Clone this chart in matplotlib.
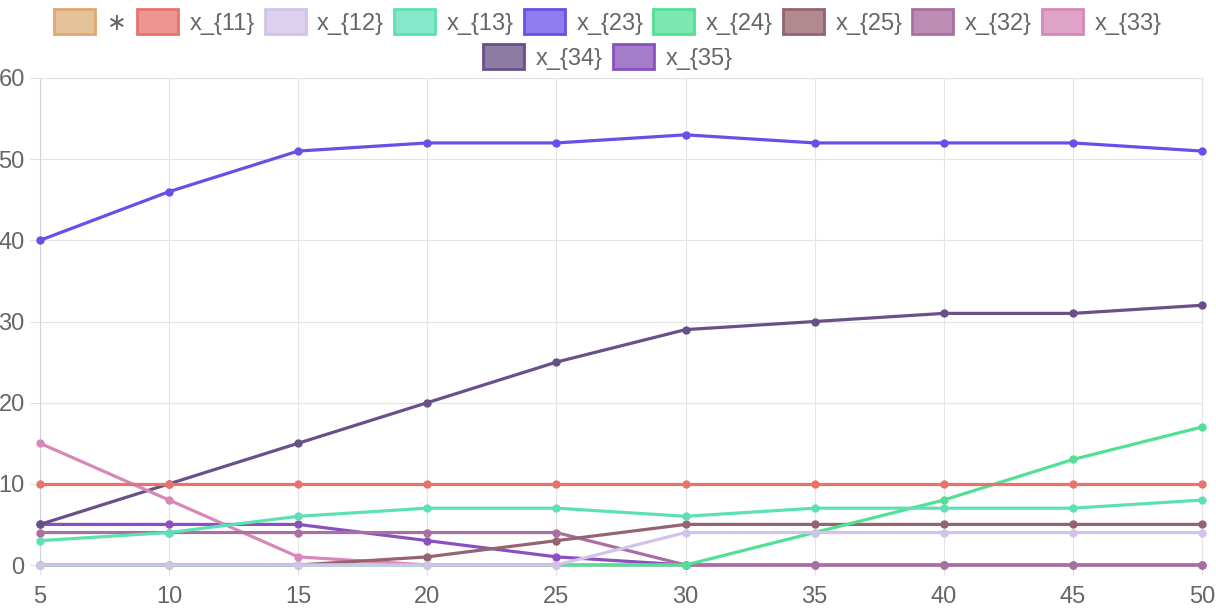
import matplotlib.pyplot as plt
from matplotlib.patches import Patch

plt.rcParams['font.family'] = ['Liberation Sans', 'DejaVu Sans']

x = [5, 10, 15, 20, 25, 30, 35, 40, 45, 50]

labels = ["\u2217", "x_{11}", "x_{12}", "x_{13}", "x_{23}", "x_{24}",
          "x_{25}", "x_{32}", "x_{33}", "x_{34}", "x_{35}"]
borders = ["#e0a870", "#e8736c", "#d2c4e8", "#5ee0b5", "#6a4ee8", "#52e095",
           "#946470", "#a870a0", "#d888b8", "#6a5088", "#8a50c0"]
fills = ["#e4c29a", "#ee9593", "#dcd0ee", "#86e8c8", "#8f7cee", "#7ce8b0",
         "#b08a90", "#bc8cb4", "#e0a4c8", "#8c7ca4", "#a47cc8"]

x_star = []
x_11 = [10, 10, 10, 10, 10, 10, 10, 10, 10, 10]
x_12 = [0, 0, 0, 0, 0, 4, 4, 4, 4, 4]
x_13 = [3, 4, 6, 7, 7, 6, 7, 7, 7, 8]
x_23 = [40, 46, 51, 52, 52, 53, 52, 52, 52, 51]
x_24 = [0, 0, 0, 0, 0, 0, 4, 8, 13, 17]
x_25 = [0, 0, 0, 1, 3, 5, 5, 5, 5, 5]
x_32 = [4, 4, 4, 4, 4, 0, 0, 0, 0, 0]
x_33 = [15, 8, 1, 0, 0, 0, 0, 0, 0, 0]
x_34 = [5, 10, 15, 20, 25, 29, 30, 31, 31, 32]
x_35 = [5, 5, 5, 3, 1, 0, 0, 0, 0, 0]

series = [x_star, x_11, x_12, x_13, x_23, x_24, x_25, x_32, x_33, x_34, x_35]

fig = plt.figure(figsize=(12.16, 6.08), dpi=100)
ax = fig.add_axes([40 / 1216, 43 / 608, 1162 / 1216, 487 / 608])

n = len(series)
for i, ys in enumerate(series):
    if not ys:
        continue
    ax.plot(x, ys, color=borders[i], lw=2.3, marker='o', ms=5,
            zorder=20 + n - i, clip_on=False)

ax.set_xlim(5, 50)
ax.set_ylim(0, 60)
ax.set_xticks(x)
ax.set_yticks(range(0, 61, 10))
ax.grid(True, color="#e4e4e4", lw=0.8)
for s in ax.spines.values():
    s.set_color("#e4e4e4")
    s.set_linewidth(0.8)
ax.spines['left'].set_color("#d4d4d4")
ax.spines['bottom'].set_color("#d4d4d4")
ax.tick_params(colors="#666666", labelsize=17, length=7, width=0.8,
               direction='out')
ax.tick_params(axis='both', color="#e0e0e0")
ax.tick_params(axis='x', pad=8)
ax.tick_params(axis='y', pad=4)
ax.set_axisbelow(True)

handles = [Patch(facecolor=fills[i], edgecolor=borders[i], lw=2, label=labels[i])
           for i in range(n)]
kw = dict(frameon=False, fontsize=17, handlelength=1.74, handleheight=1.25,
          handletextpad=0.49, columnspacing=0.42, labelcolor="#666666",
          borderaxespad=0, borderpad=0)
fig.legend(handles=handles[:9], loc='center', ncol=9,
           bbox_to_anchor=(0.5, 1 - 22 / 608), **kw)
fig.legend(handles=handles[9:], loc='center', ncol=2,
           bbox_to_anchor=(0.5, 1 - 57 / 608), **kw)

fig.savefig("out.png", dpi=100)
